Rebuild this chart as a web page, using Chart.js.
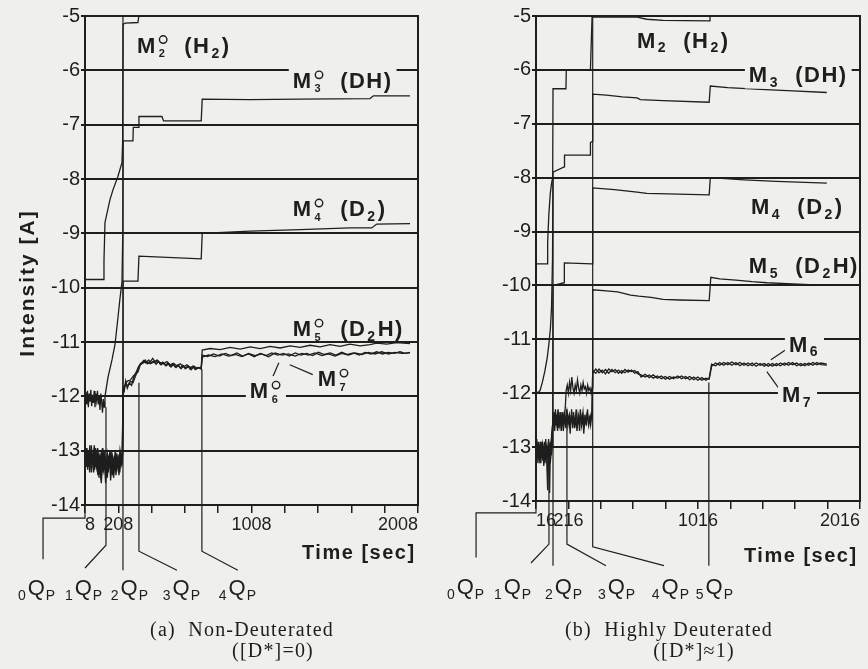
<!DOCTYPE html>
<html>
<head>
<meta charset="utf-8">
<script src="https://cdn.jsdelivr.net/npm/chart.js@4/dist/chart.umd.min.js"></script>
<style>
  html, body { margin: 0; padding: 0; background: #efefec; }
  #wrap { position: relative; width: 868px; height: 669px; overflow: hidden; }
  canvas { position: absolute; top: 0; }
  #ca { left: 0; }
  #cb { left: 434px; }
</style>
</head>
<body>
<div id="wrap">
  <canvas id="ca" width="434" height="669"></canvas>
  <canvas id="cb" width="434" height="669"></canvas>
</div>
<script>
/* ==== look ========================================================= */
const INK = '#1e1e1e', PAPER = '#efefec';
const SANS = "'Liberation Sans', Arial, sans-serif";
const NARROW = "'Liberation Sans Narrow', 'Liberation Sans', sans-serif";
const SERIF = "'Liberation Serif', 'DejaVu Serif', serif";

/* ==== data ========================================================= */
// log10 intensity ticks
const yTicks = [-5, -6, -7, -8, -9, -10, -11, -12, -13, -14];
const xTicksA = [8, 208, 408, 608, 808, 1008, 1208, 1408, 1608, 1808, 2008];
const xLabelsA = [8, 208, 1008, 2008];
const xTicksB = [16, 216, 416, 616, 816, 1016, 1216, 1416, 1616, 1816, 2016];
const xLabelsB = [16, 216, 1016, 2016];

// (a) non-deuterated, [time sec, log I]
const m2a = [[8,-9.85],[120,-9.85],[122,-9.5],[128,-8.8],[158,-8.38],[176,-8.2],[206,-7.95],[230,-7.7],[234,-7.33],[237,-5.15],[250,-5.13],[326,-5.12],[330,-5.03],[336,-4.7]];
const m3a = [[8,-12.0],[13,-11.92],[18,-12.15],[23,-11.9],[28,-12.2],[33,-11.95],[38,-12.1],[43,-11.88],[48,-12.18],[53,-11.97],[58,-12.12],[63,-11.9],[68,-12.2],[73,-11.95],[78,-12.08],[83,-11.9],[88,-12.15],[93,-12.0],[98,-12.25],[103,-11.95],[108,-12.1],[113,-12.3],[118,-12.05],[123,-12.2],[128,-12.0],[146,-11.65],[170,-11.33],[188,-11.05],[206,-10.55],[218,-10.2],[230,-9.9],[235,-9.0],[237,-7.3],[296,-7.3],[298,-7.05],[328,-7.05],[332,-6.85],[470,-6.85],[480,-6.93],[706,-6.93],[712,-6.53],[1000,-6.54],[1300,-6.53],[1720,-6.52],[1740,-6.47],[1960,-6.47]];
const m4a = [[8,-13.0],[14,-13.2],[20,-12.95],[27,-13.3],[33,-13.05],[40,-13.25],[46,-12.9],[53,-13.2],[60,-13.1],[66,-13.35],[73,-13.0],[80,-13.2],[87,-13.05],[94,-13.4],[100,-13.1],[107,-13.25],[114,-12.95],[121,-13.3],[128,-13.1],[135,-13.45],[142,-13.05],[150,-13.2],[158,-13.0],[166,-13.35],[174,-13.1],[182,-13.25],[190,-13.0],[198,-13.3],[206,-13.1],[214,-13.2],[222,-13.05],[230,-13.15],[236,-12.2],[237,-9.88],[326,-9.88],[332,-9.42],[706,-9.47],[712,-9.0],[1000,-8.96],[1300,-8.93],[1600,-8.9],[1730,-8.9],[1760,-8.83],[1960,-8.82]];
const m5a = [[8,-13.15],[15,-12.95],[22,-13.3],[29,-13.1],[36,-13.4],[43,-13.0],[50,-13.25],[57,-13.1],[64,-12.9],[71,-13.3],[78,-13.15],[85,-13.45],[92,-13.05],[99,-13.3],[106,-13.6],[113,-13.2],[120,-13.35],[127,-13.0],[134,-13.5],[141,-13.2],[148,-13.4],[155,-13.1],[162,-13.55],[170,-13.2],[178,-13.35],[186,-13.1],[194,-13.45],[202,-13.15],[210,-13.3],[218,-13.0],[226,-13.2],[234,-13.05],[238,-11.9],[250,-11.78],[262,-11.72],[280,-11.7],[300,-11.62],[326,-11.55],[340,-11.42],[360,-11.38],[380,-11.36],[400,-11.4],[420,-11.37],[440,-11.33],[460,-11.38],[480,-11.4],[500,-11.36],[520,-11.42],[540,-11.39],[560,-11.44],[580,-11.4],[600,-11.46],[620,-11.42],[640,-11.47],[660,-11.44],[680,-11.48],[706,-11.47],[712,-11.15],[760,-11.12],[820,-11.14],[880,-11.1],[940,-11.13],[1000,-11.09],[1060,-11.12],[1120,-11.08],[1180,-11.11],[1240,-11.07],[1300,-11.1],[1360,-11.06],[1420,-11.09],[1480,-11.05],[1540,-11.08],[1600,-11.04],[1660,-11.07],[1720,-11.05],[1760,-11.02],[1820,-11.04],[1880,-11.01],[1960,-11.03]];
const m6a = [[8,-13.25],[16,-13.05],[24,-13.35],[31,-13.0],[39,-13.2],[47,-13.4],[54,-13.1],[62,-13.25],[70,-12.95],[77,-13.3],[85,-13.15],[92,-13.5],[100,-13.2],[108,-13.05],[116,-13.4],[124,-13.2],[132,-13.6],[140,-13.15],[148,-13.3],[156,-13.05],[164,-13.4],[172,-13.25],[180,-13.5],[188,-13.1],[196,-13.3],[204,-13.2],[212,-13.45],[220,-13.1],[228,-13.25],[234,-13.1],[238,-11.95],[246,-11.82],[256,-11.78],[268,-11.8],[280,-11.72],[296,-11.75],[312,-11.62],[328,-11.5],[340,-11.4],[355,-11.37],[370,-11.33],[385,-11.4],[400,-11.36],[415,-11.3],[430,-11.38],[445,-11.34],[460,-11.41],[475,-11.37],[490,-11.43],[505,-11.39],[520,-11.45],[535,-11.4],[550,-11.46],[565,-11.42],[580,-11.48],[595,-11.43],[610,-11.49],[625,-11.44],[640,-11.5],[655,-11.45],[670,-11.51],[688,-11.47],[706,-11.5],[712,-11.28],[750,-11.24],[790,-11.27],[830,-11.22],[870,-11.26],[910,-11.23],[950,-11.27],[990,-11.21],[1030,-11.25],[1070,-11.22],[1110,-11.27],[1150,-11.2],[1190,-11.24],[1230,-11.22],[1270,-11.26],[1310,-11.21],[1350,-11.24],[1390,-11.2],[1430,-11.25],[1470,-11.22],[1510,-11.26],[1550,-11.21],[1590,-11.24],[1630,-11.2],[1670,-11.23],[1710,-11.19],[1750,-11.22],[1790,-11.18],[1830,-11.22],[1870,-11.19],[1910,-11.21],[1960,-11.2]];
const m7a = [[8,-13.1],[15,-13.3],[22,-13.0],[30,-13.2],[37,-12.9],[45,-13.25],[52,-13.05],[60,-13.4],[67,-13.1],[75,-13.2],[82,-12.95],[90,-13.35],[97,-13.1],[105,-13.55],[112,-13.2],[120,-13.05],[127,-13.35],[135,-13.15],[142,-13.5],[150,-13.1],[157,-13.3],[165,-13.0],[172,-13.45],[180,-13.2],[187,-13.35],[195,-13.05],[202,-13.3],[210,-13.15],[217,-13.4],[225,-13.1],[232,-13.2],[237,-11.85],[244,-11.9],[252,-11.72],[262,-11.85],[274,-11.75],[288,-11.8],[300,-11.65],[316,-11.55],[330,-11.45],[345,-11.4],[360,-11.34],[375,-11.39],[390,-11.33],[405,-11.38],[420,-11.35],[435,-11.41],[450,-11.36],[465,-11.42],[480,-11.38],[495,-11.44],[510,-11.4],[525,-11.46],[540,-11.41],[555,-11.47],[570,-11.43],[585,-11.49],[600,-11.44],[615,-11.48],[630,-11.45],[645,-11.51],[660,-11.46],[675,-11.5],[690,-11.47],[706,-11.49],[712,-11.24],[745,-11.27],[780,-11.22],[815,-11.26],[850,-11.21],[885,-11.25],[920,-11.2],[955,-11.26],[990,-11.22],[1025,-11.27],[1060,-11.21],[1095,-11.25],[1130,-11.2],[1165,-11.24],[1200,-11.21],[1235,-11.26],[1270,-11.2],[1305,-11.24],[1340,-11.21],[1375,-11.25],[1410,-11.19],[1445,-11.23],[1480,-11.2],[1515,-11.24],[1550,-11.19],[1585,-11.23],[1620,-11.2],[1655,-11.24],[1690,-11.19],[1725,-11.22],[1760,-11.18],[1795,-11.22],[1830,-11.19],[1865,-11.21],[1900,-11.18],[1930,-11.21],[1960,-11.19]];

// (b) highly deuterated
const m2b = [[16,-9.6],[84,-9.6],[88,-9.2],[95,-8.7],[104,-8.3],[112,-8.1],[119,-8.0],[121,-6.35],[201,-6.35],[203,-6.0],[352,-6.0],[362,-5.02],[640,-5.02],[700,-5.06],[800,-5.08],[1085,-5.09],[1090,-4.7]];
const m3b = [[16,-12.0],[30,-11.98],[41,-11.95],[55,-11.8],[70,-11.6],[85,-11.35],[95,-11.1],[105,-10.8],[112,-10.4],[118,-9.5],[121,-7.9],[190,-7.8],[192,-7.58],[350,-7.58],[352,-7.35],[362,-7.33],[366,-6.45],[450,-6.47],[550,-6.5],[640,-6.52],[660,-6.55],[800,-6.57],[1085,-6.6],[1092,-6.3],[1200,-6.33],[1400,-6.36],[1600,-6.39],[1811,-6.42]];
const m4b = [[16,-13.0],[21,-12.85],[26,-13.2],[31,-12.95],[36,-13.15],[41,-12.9],[46,-13.3],[51,-13.05],[56,-12.9],[61,-13.25],[66,-13.0],[71,-13.15],[76,-12.85],[81,-13.2],[86,-13.05],[91,-13.3],[96,-12.95],[101,-13.1],[106,-12.9],[111,-13.15],[116,-13.0],[119,-12.6],[121,-10.0],[189,-9.95],[191,-9.58],[362,-9.6],[366,-8.19],[500,-8.22],[640,-8.27],[700,-8.29],[1085,-8.32],[1092,-8.0],[1300,-8.04],[1500,-8.07],[1811,-8.1]];
const m5b = [[16,-13.1],[22,-12.95],[28,-13.3],[34,-13.05],[40,-13.2],[46,-12.9],[52,-13.15],[58,-13.0],[64,-13.35],[70,-13.1],[76,-12.95],[82,-13.25],[88,-13.8],[92,-13.1],[98,-13.0],[104,-13.3],[110,-13.1],[116,-12.8],[121,-12.55],[128,-12.35],[135,-12.6],[142,-12.4],[149,-12.7],[156,-12.45],[163,-12.6],[170,-12.35],[177,-12.55],[184,-12.4],[191,-12.5],[198,-12.2],[202,-11.95],[209,-11.85],[216,-12.0],[223,-11.8],[230,-11.95],[237,-11.7],[244,-11.9],[251,-12.0],[258,-11.85],[265,-11.95],[272,-11.75],[279,-11.9],[286,-12.0],[293,-11.85],[300,-11.95],[307,-11.8],[314,-11.92],[321,-11.88],[328,-12.0],[335,-11.85],[342,-11.95],[349,-11.9],[356,-12.0],[362,-11.9],[366,-10.08],[450,-10.1],[520,-10.12],[600,-10.18],[650,-10.2],[726,-10.22],[800,-10.26],[900,-10.27],[1085,-10.28],[1095,-9.85],[1150,-9.88],[1250,-9.9],[1350,-9.93],[1441,-9.95],[1600,-9.97],[1811,-10.0]];
const m6b = [[16,-12.95],[23,-13.15],[30,-12.9],[37,-13.25],[44,-13.0],[51,-13.2],[58,-12.95],[65,-13.1],[72,-13.3],[79,-13.0],[86,-13.2],[93,-12.9],[100,-13.85],[104,-13.1],[110,-12.95],[116,-12.7],[122,-12.45],[129,-12.6],[136,-12.3],[143,-12.55],[150,-12.4],[157,-12.65],[164,-12.35],[171,-12.6],[178,-12.45],[185,-12.7],[192,-12.4],[199,-12.55],[206,-12.3],[213,-12.6],[220,-12.45],[227,-12.75],[234,-12.4],[241,-12.55],[248,-12.35],[255,-12.65],[262,-12.45],[269,-12.7],[276,-12.4],[283,-12.55],[290,-12.3],[297,-12.6],[304,-12.45],[311,-12.75],[318,-12.4],[325,-12.6],[332,-12.35],[339,-12.55],[346,-12.45],[353,-12.6],[361,-12.4],[366,-11.62],[385,-11.55],[405,-11.62],[425,-11.57],[445,-11.64],[465,-11.55],[485,-11.6],[505,-11.56],[525,-11.63],[545,-11.58],[565,-11.62],[585,-11.57],[605,-11.6],[625,-11.58],[645,-11.64],[665,-11.66],[690,-11.7],[715,-11.66],[740,-11.72],[765,-11.68],[790,-11.73],[815,-11.69],[840,-11.74],[865,-11.7],[890,-11.72],[915,-11.68],[940,-11.73],[965,-11.69],[990,-11.75],[1015,-11.7],[1040,-11.76],[1065,-11.72],[1085,-11.74],[1100,-11.5],[1125,-11.44],[1150,-11.48],[1175,-11.43],[1200,-11.47],[1225,-11.42],[1250,-11.47],[1275,-11.43],[1300,-11.48],[1325,-11.44],[1350,-11.49],[1375,-11.44],[1400,-11.48],[1425,-11.45],[1450,-11.5],[1475,-11.45],[1500,-11.49],[1525,-11.44],[1550,-11.48],[1575,-11.43],[1600,-11.47],[1625,-11.44],[1650,-11.49],[1675,-11.45],[1700,-11.48],[1725,-11.43],[1750,-11.47],[1775,-11.44],[1811,-11.46]];
const m7b = [[16,-13.05],[22,-12.9],[28,-13.2],[34,-13.0],[40,-13.3],[46,-13.1],[52,-12.95],[58,-13.25],[64,-13.05],[70,-12.9],[76,-13.2],[82,-13.0],[88,-13.1],[94,-12.85],[100,-13.2],[106,-13.05],[112,-12.8],[118,-12.6],[124,-12.5],[131,-12.7],[138,-12.4],[145,-12.6],[152,-12.3],[159,-12.55],[166,-12.45],[173,-12.7],[180,-12.35],[187,-12.6],[194,-12.45],[201,-12.65],[208,-12.35],[215,-12.5],[222,-12.4],[229,-12.6],[236,-12.3],[243,-12.65],[250,-12.45],[257,-12.55],[264,-12.3],[271,-12.6],[278,-12.45],[285,-12.7],[292,-12.4],[299,-12.5],[306,-12.35],[313,-12.65],[320,-12.45],[327,-12.55],[334,-12.3],[341,-12.6],[348,-12.5],[355,-12.4],[361,-12.5],[366,-11.58],[385,-11.63],[405,-11.55],[425,-11.62],[445,-11.56],[465,-11.63],[485,-11.56],[505,-11.62],[525,-11.57],[545,-11.63],[565,-11.56],[585,-11.61],[605,-11.57],[625,-11.63],[645,-11.6],[665,-11.7],[690,-11.65],[715,-11.71],[740,-11.66],[765,-11.72],[790,-11.68],[815,-11.74],[840,-11.69],[865,-11.73],[890,-11.68],[915,-11.73],[940,-11.69],[965,-11.75],[990,-11.7],[1015,-11.76],[1040,-11.71],[1065,-11.76],[1085,-11.72],[1100,-11.46],[1125,-11.49],[1150,-11.43],[1175,-11.48],[1200,-11.43],[1225,-11.48],[1250,-11.43],[1275,-11.49],[1300,-11.44],[1325,-11.49],[1350,-11.44],[1375,-11.5],[1400,-11.45],[1425,-11.5],[1450,-11.45],[1475,-11.5],[1500,-11.45],[1525,-11.49],[1550,-11.44],[1575,-11.48],[1600,-11.43],[1625,-11.49],[1650,-11.45],[1675,-11.49],[1700,-11.44],[1725,-11.48],[1750,-11.43],[1775,-11.47],[1811,-11.48]];

// Q-point markers: leader polylines from the trace down to the label
const qLinesA = [
  [[8,-14],[8,-14.24],[-244,-14.24],[-244,-15.0]],
  [[134,-12.2],[134,-14.74],[8,-15.16]],
  [[236,-5],[236,-15.2]],
  [[332,-11.75],[332,-14.85],[560,-15.2]],
  [[710,-11.5],[710,-14.85],[926,-15.2]]
];
const qLinesB = [
  [[16,-14],[16,-14.22],[-354,-14.22],[-354,-15.05]],
  [[96,-13.0],[96,-14.8],[-15,-15.15]],
  [[121,-8.0],[121,-15.2]],
  [[207,-12.4],[207,-14.8],[448,-15.2]],
  [[366,-5.0],[366,-14.85],[806,-15.2]],
  [[1083,-11.8],[1083,-15.2]]
];
const qIdxA = ['0', '1', '2', '3', '4'];
const qPosA = [[-280,-15.51],[2,-15.51],[278,-15.51],[590,-15.51],[926,-15.51]];
const qIdxB = ['0', '1', '2', '3', '4', '5'];
const qPosB = [[-416,-15.58],[-126,-15.58],[189,-15.58],[516,-15.58],[849,-15.58],[1120,-15.58]];

// species labels and their pointer lines
const labelsA = [
  { t: 320,  v: -5.53,  parts: [['M','n'],['2','o'],['  (H','n'],['2','s'],[')','n']] },
  { t: 1256, v: -6.18,  parts: [['M','n'],['3','o'],['  (DH)','n']], bg: true },
  { t: 1256, v: -8.54,  parts: [['M','n'],['4','o'],['  (D','n'],['2','s'],[')','n']] },
  { t: 1256, v: -10.75, parts: [['M','n'],['5','o'],['  (D','n'],['2','s'],['H)','n']] },
  { t: 998,  v: -11.89, parts: [['M','n'],['6','o']], bg: true },
  { t: 1406, v: -11.67, parts: [['M','n'],['7','o']] }
];
const pointersA = [[[1136,-11.64],[1172,-11.38]], [[1376,-11.6],[1238,-11.42]]];
const labelsB = [
  { t: 639,  v: -5.44,  parts: [['M','n'],['2','s'],['  (H','n'],['2','s'],[')','n']] },
  { t: 1330, v: -6.08,  parts: [['M','n'],['3','s'],['  (DH)','n']], bg: true },
  { t: 1343, v: -8.53,  parts: [['M','n'],['4','s'],['  (D','n'],['2','s'],[')','n']] },
  { t: 1330, v: -9.63,  parts: [['M','n'],['5','s'],['  (D','n'],['2','s'],['H)','n']] },
  { t: 1577, v: -11.08, parts: [['M','n'],['6','s']], bg: true },
  { t: 1534, v: -12.02, parts: [['M','n'],['7','s']], bg: true }
];
const pointersB = [[[1565,-11.18],[1466,-11.38]], [[1515,-11.91],[1441,-11.6]]];

/* ==== helpers ====================================================== */
const xy = arr => arr.map(([x, y]) => ({ x, y }));

// text with sub/superscripts; kinds: n normal, s subscript, p prefix subscript, o circle over subscript
function rich(ctx, x0, yc, parts, o) {
  const size = o.size, wt = o.bold ? 'bold ' : '';
  const big = `${wt}${size}px ${o.family}`;
  const small = `${wt}${Math.round(size * 0.62)}px ${o.family}`;
  ctx.letterSpacing = o.ls || '0px';
  const ws = parts.map(([s, k]) => {
    ctx.font = k === 'n' ? big : small;
    const w = ctx.measureText(s).width;
    return k === 'o' ? Math.max(w, size * 0.42) + 3 : k === 'n' ? w : w + 2;
  });
  const total = ws.reduce((a, b) => a + b, 0);
  let x = o.center ? x0 - total / 2 : x0;
  if (o.bg) { ctx.fillStyle = PAPER; ctx.fillRect(x - 4, yc - size * 0.65, total + 8, size * 1.3); }
  const base = yc + size * 0.36;
  ctx.fillStyle = INK; ctx.strokeStyle = INK;
  ctx.textAlign = 'left'; ctx.textBaseline = 'alphabetic';
  parts.forEach(([s, k], i) => {
    if (k === 'n') { ctx.font = big; ctx.fillText(s, x, base); }
    else if (k === 's') { ctx.font = small; ctx.fillText(s, x + 1, base + size * 0.22); }
    else if (k === 'p') { ctx.font = small; ctx.fillText(s, x, base + size * 0.22); }
    else if (k === 'o') {
      ctx.font = `${wt}${Math.round(size * 0.5)}px ${o.family}`;
      ctx.fillText(s, x + 2, base + size * 0.2);
      ctx.lineWidth = 1.4;
      ctx.beginPath();
      ctx.arc(x + 2 + size * 0.2, base - size * 0.6, size * 0.17, 0, Math.PI * 2);
      ctx.stroke();
    }
    x += ws[i];
  });
  ctx.letterSpacing = '0px';
}

const decor = {
  id: 'decor',
  afterDatasetsDraw(chart, args, p) {
    const { ctx, chartArea: a, scales: { x, y } } = chart;
    ctx.save();
    ctx.strokeStyle = INK; ctx.lineWidth = 2;
    ctx.strokeRect(a.left, a.top, a.right - a.left, a.bottom - a.top);

    p.labels.forEach(l => rich(ctx, x.getPixelForValue(l.t), y.getPixelForValue(l.v), l.parts,
      { size: 22, bold: true, family: SANS, ls: '1.5px', bg: l.bg }));

    p.qPos.forEach(([t, v], i) => rich(ctx, x.getPixelForValue(t), y.getPixelForValue(v),
      [[p.qIdx[i], 'p'], ['Q', 'n'], ['P', 's']], { size: 22, family: SANS, center: true }));

    ctx.fillStyle = INK; ctx.textBaseline = 'middle';
    ctx.font = `bold 20px ${SANS}`; ctx.letterSpacing = '1.5px';
    ctx.textAlign = 'left';
    ctx.fillText('Time [sec]', p.timeX, p.timeY);
    if (p.yTitle) {
      ctx.save();
      ctx.translate(28, 283); ctx.rotate(-Math.PI / 2);
      ctx.textAlign = 'center';
      ctx.font = `bold 21px ${SANS}`; ctx.letterSpacing = '2px';
      ctx.fillText(p.yTitle, 0, 0);
      ctx.restore();
    }
    ctx.font = `20px ${SERIF}`; ctx.textAlign = 'center'; ctx.letterSpacing = '1.2px';
    ctx.fillText(p.cap1[0], p.cap1[1], 631);
    ctx.fillText(p.cap2[0], p.cap2[1], 652);
    ctx.letterSpacing = '0px';
    ctx.restore();
  }
};

/* ==== panels ======================================================= */
function panel(id, p) {
  const trace = d => ({ data: xy(d), borderColor: INK, borderWidth: 1.3, pointRadius: 0, tension: 0 });
  const leader = d => ({ data: xy(d), borderColor: INK, borderWidth: 1.2, pointRadius: 0, tension: 0, clip: false });
  return new Chart(document.getElementById(id), {
    type: 'line',
    data: { datasets: [...p.traces.map(trace), ...p.qLines.map(leader), ...p.pointers.map(leader)] },
    options: {
      responsive: false, animation: false, devicePixelRatio: 1,
      layout: { padding: { left: 0, right: p.padR, top: 16, bottom: p.padB } },
      plugins: { legend: { display: false }, tooltip: { enabled: false }, decor: p },
      scales: {
        x: {
          type: 'linear', min: p.xMin, max: p.xMax,
          afterBuildTicks: s => { s.ticks = p.xTicks.map(v => ({ value: v })); },
          afterFit: s => { s.height = 40; s.paddingLeft = 0; s.paddingRight = 0; },
          grid: { drawOnChartArea: false, tickLength: 8, color: INK, lineWidth: 1.5 },
          border: { color: INK, width: 2 },
          ticks: { autoSkip: false, maxRotation: 0, align: 'inner', padding: 1, color: INK,
                   font: { family: NARROW, size: 18 },
                   callback: v => p.xLabels.includes(v) ? String(v) : '' }
        },
        y: {
          type: 'linear', min: -14, max: -5,
          afterBuildTicks: s => { s.ticks = yTicks.map(v => ({ value: v })); },
          afterFit: s => { s.width = p.yW; s.paddingTop = 0; s.paddingBottom = 0; },
          grid: { color: INK, lineWidth: 2, tickLength: 4 },
          border: { color: INK, width: 2 },
          ticks: { padding: 1, color: INK, font: { family: NARROW, size: 20 }, callback: v => String(v) }
        }
      }
    },
    plugins: [decor]
  });
}

panel('ca', {
  traces: [m2a, m3a, m4a, m5a, m6a, m7a], qLines: qLinesA, pointers: pointersA,
  labels: labelsA, qIdx: qIdxA, qPos: qPosA,
  xMin: 8, xMax: 2008, xTicks: xTicksA, xLabels: xLabelsA,
  yW: 85, padR: 16, padB: 124,
  timeX: 302, timeY: 553, yTitle: 'Intensity [A]',
  cap1: ['(a)  Non-Deuterated', 242], cap2: ['([D*]=0)', 273]
});
panel('cb', {
  traces: [m2b, m3b, m4b, m5b, m6b, m7b], qLines: qLinesB, pointers: pointersB,
  labels: labelsB, qIdx: qIdxB, qPos: qPosB,
  xMin: 16, xMax: 2016, xTicks: xTicksB, xLabels: xLabelsB,
  yW: 102, padR: 8, padB: 128,
  timeX: 310, timeY: 556, yTitle: null,
  cap1: ['(b)  Highly Deuterated', 235], cap2: ['([D*]\u22481)', 260]
});
</script>
</body>
</html>
